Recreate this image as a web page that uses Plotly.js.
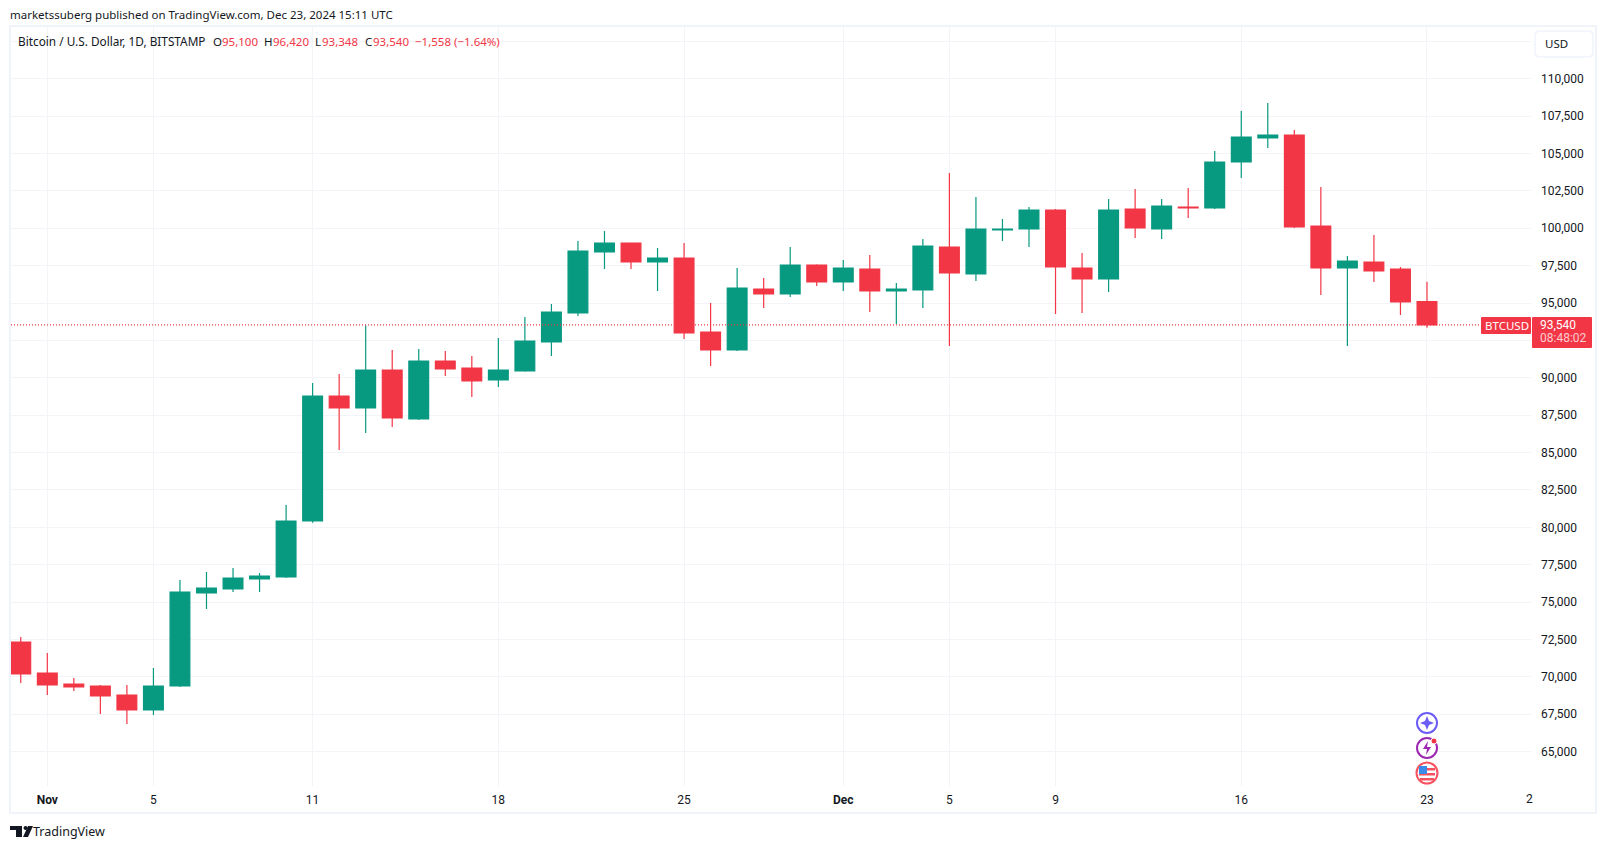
<!DOCTYPE html>
<html>
<head>
<meta charset="utf-8">
<script src="https://cdn.plot.ly/plotly-3.0.1.min.js"></script>
<style>html,body{margin:0;padding:0;background:#fff;overflow:hidden}#chart{width:1607px;height:849px}</style>
</head>
<body>
<div id="chart"></div>
<script>
var dates = ["2024-10-31","2024-11-01","2024-11-02","2024-11-03","2024-11-04","2024-11-05","2024-11-06","2024-11-07","2024-11-08","2024-11-09","2024-11-10","2024-11-11","2024-11-12","2024-11-13","2024-11-14","2024-11-15","2024-11-16","2024-11-17","2024-11-18","2024-11-19","2024-11-20","2024-11-21","2024-11-22","2024-11-23","2024-11-24","2024-11-25","2024-11-26","2024-11-27","2024-11-28","2024-11-29","2024-11-30","2024-12-01","2024-12-02","2024-12-03","2024-12-04","2024-12-05","2024-12-06","2024-12-07","2024-12-08","2024-12-09","2024-12-10","2024-12-11","2024-12-12","2024-12-13","2024-12-14","2024-12-15","2024-12-16","2024-12-17","2024-12-18","2024-12-19","2024-12-20","2024-12-21","2024-12-22","2024-12-23"];
var opens = [72332,70259,69524,69390,68788,67785,69390,75609,75876,76545,76678,80423,88782,87980,90521,87244,91123,90655,89852,90454,92393,94333,98411,99013,97743,98010,93062,91858,95937,95603,97542,96405,97275,95804,95870,98746,96940,99883,99950,101220,97342,96606,101287,99950,101421,101354,104430,106035,106235,100150,97342,97743,97275,95100];
var highs = [72667,71597,69925,69450,69457,70594,76478,77013,77280,76946,81493,89651,90253,93510,91858,91925,91791,91457,92661,94065,94934,99147,99816,99050,98679,99013,95001,97342,96673,98746,97600,97877,98211,96338,99281,103694,102089,100618,101421,101287,98344,101956,102624,101956,102691,105165,107840,108375,106570,102758,98144,99548,97408,96420];
var lows = [69590,68788,69055,67518,66849,67451,69323,74539,75676,75676,76612,80300,85171,86308,86709,87177,90120,88715,89384,90400,91457,94132,97275,97275,95804,92594,90788,91791,94667,95402,96138,95804,94400,93597,94667,92126,96472,99147,98746,94265,94333,95737,99348,99281,100685,101287,103360,105366,100017,95536,92126,96405,94199,93348];
var closes = [70192,69457,69323,68721,67785,69390,75676,75943,76612,76745,80423,88782,87980,90521,87311,91123,90588,89785,90521,92460,94400,98478,99013,97743,98010,92995,91858,96004,95603,97542,96405,97342,95804,95937,98813,97007,99950,99950,101220,97408,96606,101220,100017,101488,101354,104430,106102,106235,100083,97342,97810,97141,95068,93540];

var priceTicks = [65000,67500,70000,72500,75000,77500,80000,82500,85000,87500,90000,92500,95000,97500,100000,102500,105000,107500,110000,112500];
var hiddenPriceTicks = [92500,112500];
var dateTicks = ["2024-11-01","2024-11-05","2024-11-11","2024-11-18","2024-11-25","2024-12-01","2024-12-05","2024-12-09","2024-12-16","2024-12-23"];
var dateTickLabels = ["<b>Nov</b>","5","11","18","25","<b>Dec</b>","5","9","16","23"];

var UP = "#089981", DOWN = "#F23645", INK = "#131722", GRID = "#F3F4F7", FRAME = "#F0F3FA";
var FONT = '"Noto Sans", "Open Sans", sans-serif';
var NUMFONT = 'Roboto, "Noto Sans", sans-serif';
var W = 1607, H = 849, L = 11, R = 76, T = 27, B = 63;
function fx(x){ return (x - L) / (W - L - R); }
function fy(y){ return 1 - (y - T) / (H - T - B); }
function fmt(n){ return n.toLocaleString("en-US"); }

function rrect(x0,y0,x1,y1,r,o){
  var p = "M"+fx(x0+r)+","+fy(y0)+" L"+fx(x1-r)+","+fy(y0)+" Q"+fx(x1)+","+fy(y0)+" "+fx(x1)+","+fy(y0+r)+
    " L"+fx(x1)+","+fy(y1-r)+" Q"+fx(x1)+","+fy(y1)+" "+fx(x1-r)+","+fy(y1)+" L"+fx(x0+r)+","+fy(y1)+
    " Q"+fx(x0)+","+fy(y1)+" "+fx(x0)+","+fy(y1-r)+" L"+fx(x0)+","+fy(y0+r)+" Q"+fx(x0)+","+fy(y0)+" "+fx(x0+r)+","+fy(y0)+" Z";
  return Object.assign({type:"path",xref:"paper",yref:"paper",path:p,line:{width:0}},o);
}
function box(x0,y0,x1,y1,o){
  return Object.assign({type:"rect",xref:"paper",yref:"paper",x0:fx(x0),x1:fx(x1),y0:fy(y0),y1:fy(y1),line:{width:0}},o);
}
function ring(cx,cy,r,o){
  return Object.assign({type:"circle",xref:"paper",yref:"paper",x0:fx(cx-r),x1:fx(cx+r),y0:fy(cy-r),y1:fy(cy+r),line:{width:0}},o);
}
function poly(pts,o){
  var p = pts.map(function(q,i){return (i?"L":"M")+fx(q[0])+","+fy(q[1]);}).join(" ")+" Z";
  return Object.assign({type:"path",xref:"paper",yref:"paper",path:p,line:{width:0}},o);
}
function label(x,y,text,color,size,anchor,family){
  return {xref:"paper",yref:"paper",x:fx(x),y:fy(y),text:text,showarrow:false,xanchor:anchor||"left",yanchor:"middle",
    borderpad:0,borderwidth:0,font:{family:family||FONT,size:size||12,color:color||INK}};
}

var last = closes[closes.length-1];
var shapes = [
  box(10,26,1596,813,{fillcolor:"rgba(0,0,0,0)",line:{color:FRAME,width:2}}),
  {type:"line",xref:"paper",yref:"y",x0:0,x1:fx(1481),y0:last,y1:last,line:{color:DOWN,width:1.2,dash:"1px,2px"}},
  rrect(1481,317,1531,334,1,{fillcolor:DOWN}),
  rrect(1532,317,1592,348,1,{fillcolor:DOWN}),
  rrect(1535,31,1593,57,5,{fillcolor:"#fff",line:{color:FRAME,width:1.5}}),
  ring(1427,723,10,{fillcolor:"#fff",line:{color:"#6C5CF6",width:2}}),
  poly([[1427,716],[1429,721],[1434,723],[1429,725],[1427,730],[1425,725],[1420,723],[1425,721]],{fillcolor:"#6C5CF6"}),
  ring(1427,748,10,{fillcolor:"#fff",line:{color:"#9C27B0",width:2}}),
  poly([[1428,741],[1423,749],[1427,749],[1426,755],[1431,747],[1427,747]],{fillcolor:"#9C27B0"}),
  ring(1434,741,3,{fillcolor:DOWN,line:{color:"#fff",width:1}}),
  ring(1427,773,10.5,{fillcolor:"#fff",line:{color:"#F7525F",width:2}}),
  box(1419,768,1435,770.5,{fillcolor:"#F7525F"}),
  box(1419,773,1435,775.5,{fillcolor:"#F7525F"}),
  box(1420,778,1434,780.5,{fillcolor:"#F7525F"}),
  box(1419,766,1427,774,{fillcolor:"#3D8BE8"}),
  box(10,826,22,830,{fillcolor:INK}),
  box(16,826,22,837,{fillcolor:INK}),
  ring(25.5,828,2,{fillcolor:INK}),
  poly([[28,826],[33,826],[28,837],[23,837]],{fillcolor:INK})
];

var headerItems = [
  [213,"O",INK],[222,"95,100",DOWN],
  [264,"H",INK],[273,"96,420",DOWN],
  [315,"L",INK],[322,"93,348",DOWN],
  [365,"C",INK],[373,"93,540",DOWN],
  [415,"−1,558 (−1.64%)",DOWN]
];
var annotations = headerItems.map(function(h){ return label(h[0],41,h[1],h[2],11.5); });
annotations.push(label(18,41,"Bitcoin / U.S. Dollar, 1D, BITSTAMP",INK,11.8));
annotations.push(label(10,14.5,"marketssuberg published on TradingView.com, Dec 23, 2024 15:11 UTC",INK,11.5));
annotations.push(label(1545,43.5,"USD",INK,11.5));
annotations.push(label(1540,324.5,fmt(last),"#FFFFFF",12,"left",NUMFONT));
annotations.push(label(1540,338.5,"08:48:02","rgba(255,255,255,0.75)",12,"left",NUMFONT));
annotations.push(label(1506.5,325,"BTCUSD","#FFFFFF",11.5,"center"));
annotations.push(label(1529,799,"2",INK,12,"center",NUMFONT));
annotations.push(label(33,831,"TradingView",INK,12.5));

var trace = {
  type:"candlestick", x:dates, open:opens, high:highs, low:lows, close:closes,
  increasing:{line:{color:UP,width:1.2},fillcolor:UP},
  decreasing:{line:{color:DOWN,width:1.2},fillcolor:DOWN},
  whiskerwidth:0, hoverinfo:"skip"
};

var layout = {
  width:W, height:H, autosize:false, showlegend:false, dragmode:false,
  paper_bgcolor:"#fff", plot_bgcolor:"#fff", boxgap:0.254, boxgroupgap:0,
  margin:{l:L,r:R,t:T,b:B,pad:0},
  font:{family:FONT,size:12,color:INK},
  xaxis:{type:"date",range:["2024-10-30 15:10","2024-12-26 22:05"],rangeslider:{visible:false},
    tickmode:"array",tickvals:dateTicks,ticktext:dateTickLabels,showgrid:true,gridcolor:GRID,gridwidth:1,
    zeroline:false,showline:false,ticks:"",ticklabelstandoff:5,tickangle:0,tickfont:{family:NUMFONT,size:12,color:INK}},
  yaxis:{type:"linear",side:"right",range:[62703,113457],tickmode:"array",tickvals:priceTicks,
    ticktext:priceTicks.map(function(v){return hiddenPriceTicks.indexOf(v)>=0?"":fmt(v);}),
    showgrid:true,gridcolor:GRID,gridwidth:1,zeroline:false,showline:false,ticks:"",ticklabelstandoff:9,
    tickfont:{family:NUMFONT,size:12,color:INK}},
  shapes:shapes, annotations:annotations
};
Plotly.newPlot("chart",[trace],layout,{staticPlot:true,displayModeBar:false});
</script>
</body>
</html>
